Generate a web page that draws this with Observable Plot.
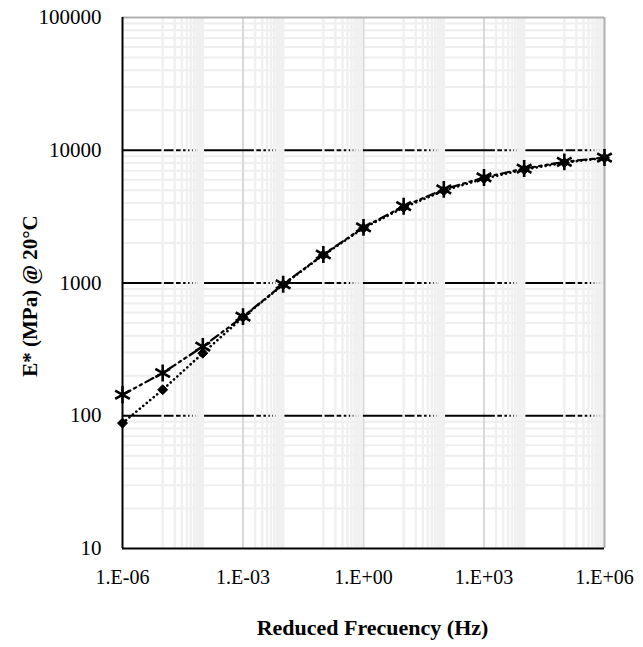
<!DOCTYPE html>
<html>
<head>
<meta charset="utf-8">
<script src="https://cdn.jsdelivr.net/npm/d3@7"></script>
<script src="https://cdn.jsdelivr.net/npm/@observablehq/plot@0.6"></script>
<style>
  html, body { margin: 0; padding: 0; background: white; }
  svg, svg text { font-family: "Liberation Serif", "Times New Roman", serif !important; }
</style>
</head>
<body>
<div id="chart"></div>
<script>
// Reduced frequency (Hz)
const freq = [1e-6, 1e-5, 1e-4, 1e-3, 1e-2, 1e-1, 1e0, 1e1, 1e2, 1e3, 1e4, 1e5, 1e6];
// Series with asterisk markers (dash-dot line)
const eStar = [144, 210, 332, 558, 978, 1640, 2625, 3790, 5070, 6240, 7280, 8170, 8810];
// Series with diamond markers (dotted line)
const eDiamond = [88, 157, 296, 552, 972, 1625, 2590, 3700, 4960, 6110, 7150, 8050, 8760];

const xTicks = [1e-6, 1e-3, 1e0, 1e3, 1e6];
const xTickLabels = ["1.E-06", "1.E-03", "1.E+00", "1.E+03", "1.E+06"];
const yTicks = [10, 100, 1000, 10000, 100000];
const yTickLabels = ["10", "100", "1000", "10000", "100000"];

const xMajorGrid = [1e-3, 1e0, 1e3];
const xMinorGrid = [
  1e-5, 2e-5, 3e-5, 4e-5, 5e-5, 6e-5, 7e-5, 8e-5, 9e-5, 1e-4,
  2e-3, 3e-3, 4e-3, 5e-3, 6e-3, 7e-3, 8e-3, 9e-3, 1e-2,
  1e-1, 2e-1, 3e-1, 4e-1, 5e-1, 6e-1, 7e-1, 8e-1, 9e-1,
  1e1, 2e1, 3e1, 4e1, 5e1, 6e1, 7e1, 8e1, 9e1, 1e2,
  2e3, 3e3, 4e3, 5e3, 6e3, 7e3, 8e3, 9e3, 1e4,
  1e5, 2e5, 3e5, 4e5, 5e5, 6e5, 7e5, 8e5, 9e5
];
const yMajorGrid = [100, 1000, 10000];
const yMinorGrid = [];
[10, 100, 1000, 10000].forEach(base => [2,3,4,5,6,7,8,9].forEach(k => yMinorGrid.push(k * base)));

const xTitle = "Reduced Frecuency (Hz)";
const yTitle = "E* (MPa) @ 20°C";

const starData = freq.map((f, i) => ({f, e: eStar[i]}));
const diamondData = freq.map((f, i) => ({f, e: eDiamond[i]}));

const chart = Plot.plot({
  width: 643,
  height: 647,
  marginLeft: 122,
  marginRight: 39,
  marginTop: 17,
  marginBottom: 99,
  style: {
    fontFamily: "Liberation Serif, serif",
    fontSize: "20px",
    color: "black",
    background: "white"
  },
  x: {type: "log", domain: [1e-6, 1e6]},
  y: {type: "log", domain: [10, 1e5]},
  marks: [
    Plot.ruleY(yMinorGrid, {stroke: "#eeeeee", strokeWidth: 2}),
    Plot.ruleX(xMajorGrid, {stroke: "#d9d9d9", strokeWidth: 2}),
    Plot.ruleY(yMajorGrid, {stroke: "black", strokeWidth: 2}),
    Plot.ruleX(xMinorGrid, {stroke: "#f0f0f0", strokeWidth: 2.5}),
    Plot.ruleY([1e5], {stroke: "#b0b0b0", strokeWidth: 2}),
    Plot.ruleX([1e6], {stroke: "#b0b0b0", strokeWidth: 2}),
    Plot.ruleX([1e-6], {stroke: "black", strokeWidth: 2}),
    Plot.ruleY([10], {stroke: "black", strokeWidth: 2}),
    Plot.axisX({
      ticks: xTicks,
      tickFormat: d => xTickLabels[xTicks.indexOf(d)],
      tickSize: 0,
      tickPadding: 21,
      label: null,
      fontSize: 20
    }),
    Plot.axisY({
      ticks: yTicks,
      tickFormat: d => yTickLabels[yTicks.indexOf(d)],
      tickSize: 0,
      tickPadding: 21,
      label: null,
      fontSize: 21
    }),
    Plot.line(diamondData, {
      x: "f", y: "e", stroke: "black", strokeWidth: 2.6,
      strokeDasharray: "0.1,4.4", strokeLinecap: "round"
    }),
    Plot.line(starData, {
      x: "f", y: "e", stroke: "black", strokeWidth: 2.2,
      strokeDasharray: "9,4,2.5,4,2.5,4"
    }),
    Plot.dot(diamondData, {x: "f", y: "e", symbol: "diamond2", r: 4.5, fill: "black", stroke: "black", strokeWidth: 1}),
    Plot.dot(starData, {x: "f", y: "e", symbol: "asterisk", r: 8, stroke: "black", strokeWidth: 2.6}),
    Plot.text([xTitle], {
      text: d => d, frameAnchor: "bottom", dy: 86, dx: 9,
      fontWeight: "bold", fontSize: 22
    }),
    Plot.text([yTitle], {
      text: d => d, frameAnchor: "left", textAnchor: "middle", dx: -92, dy: 13, rotate: -90,
      fontWeight: "bold", fontSize: 21
    })
  ]
});
document.getElementById("chart").appendChild(chart);
</script>
</body>
</html>
